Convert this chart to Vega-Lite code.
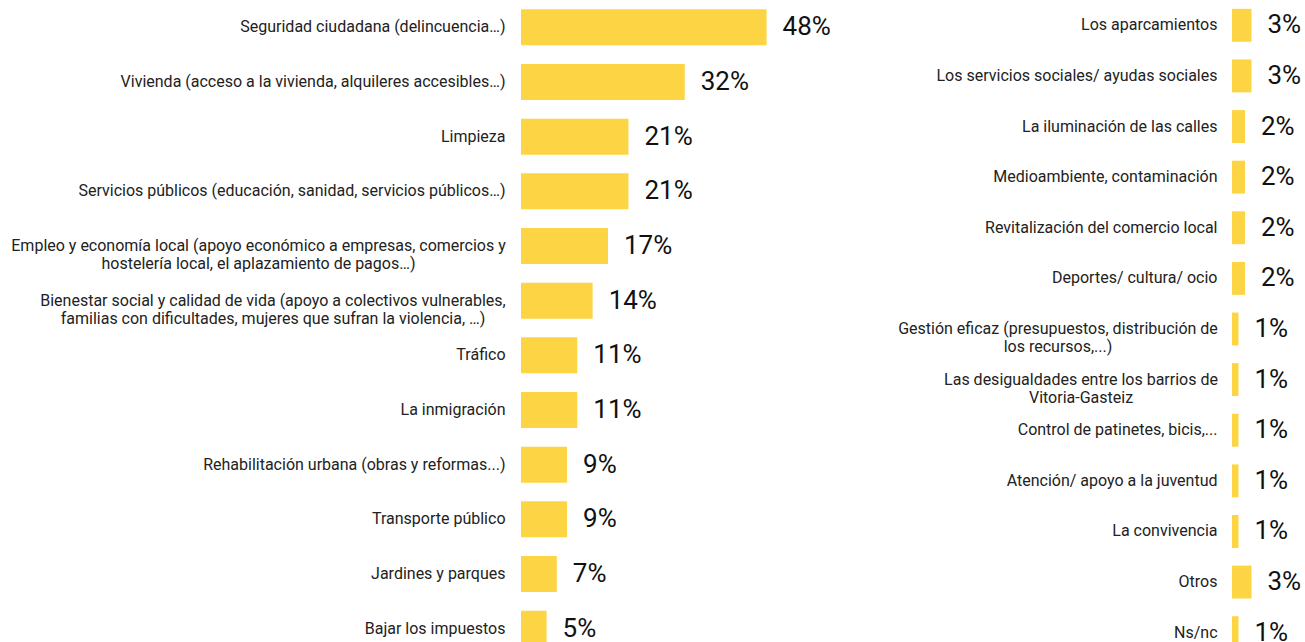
{
  "$schema": "https://vega.github.io/schema/vega-lite/v6.json",
  "padding": {"left": 10, "top": 0, "right": 0, "bottom": 0},
  "background": "white",
  "config": {"view": {"stroke": null}, "font": "Roboto", "concat": {"spacing": 404}},
  "bounds": "flush",
  "datasets": {
    "left": [
      {"tema": "Seguridad ciudadana (delincuencia…)", "pct": 0.48},
      {"tema": "Vivienda (acceso a la vivienda, alquileres accesibles…)", "pct": 0.32},
      {"tema": "Limpieza", "pct": 0.21},
      {"tema": "Servicios públicos (educación, sanidad, servicios públicos…)", "pct": 0.21},
      {"tema": "Empleo y economía local (apoyo económico a empresas, comercios y|hostelería local, el aplazamiento de pagos…)", "pct": 0.17},
      {"tema": "Bienestar social y calidad de vida (apoyo a colectivos vulnerables,|familias con dificultades, mujeres que sufran la violencia, …)", "pct": 0.14},
      {"tema": "Tráfico", "pct": 0.11},
      {"tema": "La inmigración", "pct": 0.11},
      {"tema": "Rehabilitación urbana (obras y reformas...)", "pct": 0.09},
      {"tema": "Transporte público", "pct": 0.09},
      {"tema": "Jardines y parques", "pct": 0.07},
      {"tema": "Bajar los impuestos", "pct": 0.05}
    ],
    "right": [
      {"tema": "Los aparcamientos", "pct": 0.03},
      {"tema": "Los servicios sociales/ ayudas sociales", "pct": 0.03},
      {"tema": "La iluminación de las calles", "pct": 0.02},
      {"tema": "Medioambiente, contaminación", "pct": 0.02},
      {"tema": "Revitalización del comercio local", "pct": 0.02},
      {"tema": "Deportes/ cultura/ ocio", "pct": 0.02},
      {"tema": "Gestión eficaz (presupuestos, distribución de|los recursos,...)", "pct": 0.01},
      {"tema": "Las desigualdades entre los barrios de|Vitoria-Gasteiz", "pct": 0.01},
      {"tema": "Control de patinetes, bicis,...", "pct": 0.01},
      {"tema": "Atención/ apoyo a la juventud", "pct": 0.01},
      {"tema": "La convivencia", "pct": 0.01},
      {"tema": "Otros", "pct": 0.03},
      {"tema": "Ns/nc", "pct": 0.01}
    ]
  },
  "hconcat": [
    {
      "width": 307,
      "height": 656,
      "data": {"name": "left"},
      "encoding": {
        "y": {
          "field": "tema", "type": "nominal", "sort": null,
          "scale": {"paddingInner": 0.34, "paddingOuter": 0.17},
          "axis": {
            "title": null, "domain": false, "ticks": false, "labelFontSize": 16, "labelColor": "#222222", "labelLimit": 0, "labelLineHeight": 18,
            "labelExpr": "split(datum.label, '|')",
            "labelAlign": {"condition": {"test": "indexof(datum.value, '|') >= 0", "value": "center"}, "value": "right"},
            "labelPadding": {"condition": [
              {"test": "indexof(datum.value, 'Empleo') == 0", "value": 263},
              {"test": "indexof(datum.value, 'Bienestar') == 0", "value": 248.5}
            ], "value": 16}
          }
        },
        "x": {"field": "pct", "type": "quantitative", "scale": {"domain": [0, 0.6]}, "axis": null}
      },
      "layer": [
        {"mark": {"type": "bar", "color": "#FDD443"}},
        {"mark": {"type": "text", "align": "left", "baseline": "middle", "dx": 16, "fontSize": 26, "fontWeight": 400, "color": "#111111"},
         "encoding": {"text": {"field": "pct", "type": "quantitative", "format": ".0%"}}}
      ]
    },
    {
      "width": 65,
      "height": 658,
      "data": {"name": "right"},
      "encoding": {
        "y": {
          "field": "tema", "type": "nominal", "sort": null,
          "scale": {"paddingInner": 0.35, "paddingOuter": 0.175},
          "axis": {
            "title": null, "domain": false, "ticks": false, "labelFontSize": 16, "labelColor": "#222222", "labelLimit": 0, "labelLineHeight": 18,
            "labelExpr": "split(datum.label, '|')",
            "labelAlign": {"condition": {"test": "indexof(datum.value, '|') >= 0", "value": "center"}, "value": "right"},
            "labelPadding": {"condition": [
              {"test": "indexof(datum.value, 'Gestión') == 0", "value": 174.5},
              {"test": "indexof(datum.value, 'Las desigualdades') == 0", "value": 151.5}
            ], "value": 15}
          }
        },
        "x": {"field": "pct", "type": "quantitative", "scale": {"domain": [0, 0.1]}, "axis": null}
      },
      "layer": [
        {"mark": {"type": "bar", "color": "#FDD443"}},
        {"mark": {"type": "text", "align": "left", "baseline": "middle", "dx": 16, "fontSize": 26, "fontWeight": 400, "color": "#111111"},
         "encoding": {"text": {"field": "pct", "type": "quantitative", "format": ".0%"}}}
      ]
    }
  ]
}
